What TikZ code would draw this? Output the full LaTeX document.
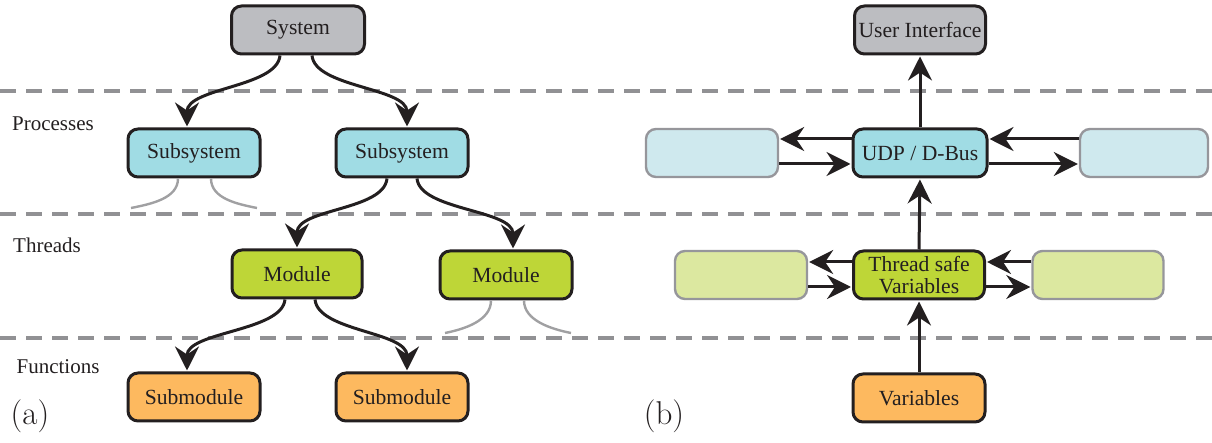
\documentclass[tikz,border=0pt]{standalone}
\usepackage{fontspec}
\usetikzlibrary{arrows.meta}
\newfontfamily\tnr{Liberation Serif}
\definecolor{sysgray}{RGB}{188,189,193}
\definecolor{subcyan}{RGB}{160,220,228}
\definecolor{modgreen}{RGB}{190,214,55}
\definecolor{suborange}{RGB}{253,185,95}
\definecolor{lightcyan}{RGB}{207,233,238}
\definecolor{lightgreen}{RGB}{220,232,160}
\definecolor{dashgray}{RGB}{145,145,148}
\definecolor{stubgray}{RGB}{160,160,162}
\definecolor{edgegray}{RGB}{150,150,155}
\definecolor{ink}{RGB}{35,31,32}
\tikzset{
  box/.style={draw=ink, line width=1.5pt, rounded corners=5pt, minimum width=66pt,
    minimum height=24pt, inner sep=0pt, align=center, text=ink,
    font=\tnr\fontsize{10.8}{11}\selectfont},
  ghost/.style={box, draw=edgegray, line width=1.2pt},
  conn/.style={draw=ink, line width=1.5pt, -{Stealth[length=12pt,width=12pt,inset=4pt]}, shorten >=0.5pt},
  stub/.style={draw=stubgray, line width=1.2pt},
  sep/.style={draw=dashgray, line width=1.6pt, dash pattern=on 8pt off 5pt},
  lvl/.style={text=ink, font=\tnr\fontsize{10.5}{12}\selectfont},
  tag/.style={text=ink, font=\fontsize{16.5}{18}\selectfont}
}
\begin{document}
\begin{tikzpicture}[x=0.5pt,y=-0.5pt]
\useasboundingbox (0,0) rectangle (1212,443);
% separators
\draw[sep] (0,91) -- (1212,91);
\draw[sep] (0,214) -- (1212,214);
\draw[sep] (0,338) -- (1212,338);
% level labels
\node[lvl] (lp) at (53,124) {Processes};
\node[lvl] (lt) at (47,245) {Threads};
\node[lvl] (lf) at (58,367) {Functions};
\node[tag] (ta) at (30,416) {(a)};
\node[tag] (tb) at (664,416) {(b)};
% (a) nodes
\node[box, fill=sysgray, minimum width=66.5pt] (sys) at (298,30) {System};
\node[box, fill=subcyan] (subl) at (194,153) {Subsystem};
\node[box, fill=subcyan] (subr) at (402,153) {Subsystem};
\node[box, fill=modgreen, minimum width=65pt] (modl) at (297,274) {Module};
\node[box, fill=modgreen] (modr) at (506,275) {Module};
\node[box, fill=suborange] (sml) at (194,397) {Submodule};
\node[box, fill=suborange] (smr) at (402,397) {Submodule};
% (a) connectors
\draw[conn] ([xshift=-9pt]sys.south) .. controls +(-1.5pt,-16pt) and +(0,20pt) .. ([xshift=-3.5pt]subl.north);
\draw[conn] ([xshift=7pt]sys.south) .. controls +(1.5pt,-16pt) and +(0,20pt) .. ([xshift=2.5pt]subr.north);
\draw[conn] ([xshift=-7.5pt]subr.south) .. controls +(-1.5pt,-16pt) and +(0,20pt) .. ([xshift=0pt]modl.north);
\draw[conn] ([xshift=7.5pt]subr.south) .. controls +(1.5pt,-16pt) and +(0,20pt) .. ([xshift=3.5pt]modr.north);
\draw[conn] ([xshift=-6pt]modl.south) .. controls +(-1.5pt,-16pt) and +(0,20pt) .. ([xshift=-3.5pt]sml.north);
\draw[conn] ([xshift=9pt]modl.south) .. controls +(1.5pt,-16pt) and +(0,20pt) .. ([xshift=2.5pt]smr.north);
% stubs
\coordinate (s1) at (131,208);
\coordinate (s2) at (257,208);
\coordinate (s3) at (445,333);
\coordinate (s4) at (571,333);
\draw[stub] ([xshift=-8pt]subl.south) .. controls +(0,-10pt) and +(10pt,2pt) .. (s1);
\draw[stub] ([xshift=8.5pt]subl.south) .. controls +(0,-10pt) and +(-10pt,2pt) .. (s2);
\draw[stub] ([xshift=-7.5pt]modr.south) .. controls +(0,-10pt) and +(10pt,2pt) .. (s3);
\draw[stub] ([xshift=9pt]modr.south) .. controls +(0,-10pt) and +(-10pt,2pt) .. (s4);
% (b) nodes
\node[box, fill=sysgray, minimum width=65.5pt] (ui) at (920,30) {User Interface};
\node[box, fill=subcyan, minimum width=67pt] (udp) at (920,153) {UDP / D-Bus};
\node[ghost, fill=lightcyan] (lb) at (712,153) {};
\node[ghost, fill=lightcyan, minimum width=64pt] (rb) at (1144,153) {};
\node[box, fill=modgreen, minimum width=65.5pt] (ts) at (919,275) {Thread safe\\Variables};
\node[ghost, fill=lightgreen] (lg) at (741,275) {};
\node[ghost, fill=lightgreen, minimum width=65.5pt] (rg) at (1098,275) {};
\node[box, fill=suborange] (var) at (919,398) {Variables};
% (b) connectors
\draw[conn] (udp.north) -- (ui.south);
\draw[conn] (ts.north) -- (udp.south);
\draw[conn] (var.north) -- (ts.south);
\draw[conn] ([yshift=7pt]udp.west) -- ([yshift=7pt]lb.east);
\draw[conn] ([yshift=-5.5pt]lb.east) -- ([yshift=-5.5pt]udp.west);
\draw[conn] ([yshift=7pt]rb.west) -- ([yshift=7pt]udp.east);
\draw[conn] ([yshift=-5.5pt]udp.east) -- ([yshift=-5.5pt]rb.west);
\draw[conn] ([yshift=6.5pt]ts.west) -- ([yshift=6.5pt]lg.east);
\draw[conn] ([yshift=-6pt]lg.east) -- ([yshift=-6pt]ts.west);
\draw[conn] ([yshift=6.5pt]rg.west) -- ([yshift=6.5pt]ts.east);
\draw[conn] ([yshift=-6pt]ts.east) -- ([yshift=-6pt]rg.west);
\end{tikzpicture}
\end{document}
